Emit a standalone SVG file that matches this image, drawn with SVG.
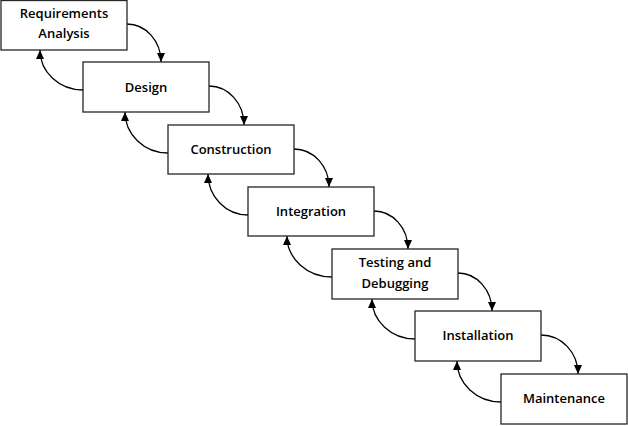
<svg xmlns="http://www.w3.org/2000/svg" width="628" height="426" viewBox="0 0 628 426">
  <style>
    .box { fill: #ffffff; stroke: #262626; stroke-width: 1.3; }
    .lbl { font-family: "Open Sans", "Liberation Sans", sans-serif; font-size: 13px; font-weight: 600; fill: #000; text-anchor: middle; }
    .conn { fill: none; stroke: #000; stroke-width: 1.3; marker-end: url(#arrow); }
  </style>
  <defs>
    <marker id="arrow" markerUnits="userSpaceOnUse" markerWidth="9" markerHeight="8" refX="9" refY="4" orient="auto">
      <path d="M0,0 L9,4 L0,8 Z" fill="#000"/>
    </marker>
  </defs>
  <rect width="628" height="426" fill="#ffffff"/>

  <g id="connectors">
    <path class="conn" d="M127,24 A34,38 0 0 1 161,62"/>
    <path class="conn" d="M209,86 A35,39 0 0 1 244,125"/>
    <path class="conn" d="M294,149 A35,38 0 0 1 329,187"/>
    <path class="conn" d="M374,211 A34,38 0 0 1 408,249"/>
    <path class="conn" d="M458,273 A34,38 0 0 1 492,311"/>
    <path class="conn" d="M541,335 A37,39 0 0 1 578,374"/>

    <path class="conn" d="M83,90 A43,40 0 0 1 40,50"/>
    <path class="conn" d="M168,153 A43,41 0 0 1 125,112"/>
    <path class="conn" d="M248,215 A40,41 0 0 1 208,174"/>
    <path class="conn" d="M332,277 A45,41 0 0 1 287,236"/>
    <path class="conn" d="M415,339 A43,40 0 0 1 372,299"/>
    <path class="conn" d="M501,402 A44,41 0 0 1 457,361"/>
  </g>

  <g id="requirements">
    <rect class="box" x="1" y="0.5" width="126" height="49.5"/>
    <text class="lbl" x="64" y="18">Requirements</text>
    <text class="lbl" x="64" y="38">Analysis</text>
  </g>
  <g id="design">
    <rect class="box" x="83" y="62" width="126" height="50"/>
    <text class="lbl" x="146" y="91.5">Design</text>
  </g>
  <g id="construction">
    <rect class="box" x="168" y="125" width="126" height="49"/>
    <text class="lbl" x="231" y="153.5">Construction</text>
  </g>
  <g id="integration">
    <rect class="box" x="248" y="187" width="126" height="49"/>
    <text class="lbl" x="311" y="216">Integration</text>
  </g>
  <g id="testing">
    <rect class="box" x="332" y="249" width="126" height="50"/>
    <text class="lbl" x="395" y="267">Testing and</text>
    <text class="lbl" x="395" y="288">Debugging</text>
  </g>
  <g id="installation">
    <rect class="box" x="415" y="311" width="126" height="50"/>
    <text class="lbl" x="478" y="340">Installation</text>
  </g>
  <g id="maintenance">
    <rect class="box" x="501" y="374" width="126" height="50"/>
    <text class="lbl" x="564" y="403">Maintenance</text>
  </g>
</svg>
